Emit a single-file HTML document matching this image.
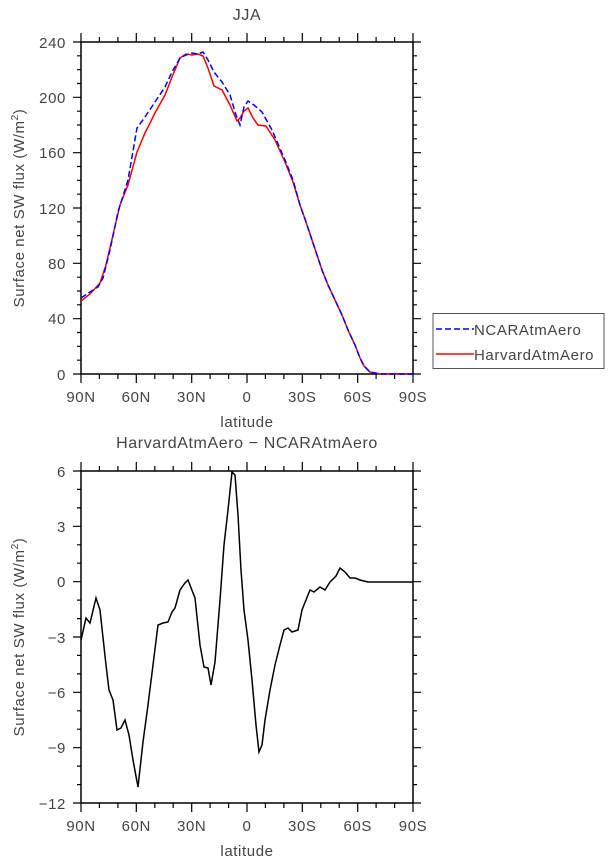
<!DOCTYPE html>
<html><head><meta charset="utf-8"><style>body{margin:0;background:#fff}svg{display:block}text{font-family:"Liberation Sans",sans-serif;fill:#444;letter-spacing:0.6px}</style></head><body>
<svg width="610" height="862" viewBox="0 0 610 862" xmlns="http://www.w3.org/2000/svg">
<g id="p1">
<text x="247" y="20" font-size="16" text-anchor="middle">JJA</text>
<rect x="81" y="42" width="332" height="332" fill="none" stroke="#000" stroke-width="1.5"/>
<g stroke="#000" stroke-width="1.2">
<path d="M81,42V33M136.3,42V33M191.7,42V33M247,42V33M302.3,42V33M357.7,42V33M413,42V33M81,374V383M136.3,374V383M191.7,374V383M247,374V383M302.3,374V383M357.7,374V383M413,374V383"/>
<path d="M99.4,42v-5M117.9,42v-5M154.8,42v-5M173.2,42v-5M210.1,42v-5M228.6,42v-5M265.4,42v-5M283.9,42v-5M320.8,42v-5M339.2,42v-5M376.1,42v-5M394.6,42v-5M99.4,374v5M117.9,374v5M154.8,374v5M173.2,374v5M210.1,374v5M228.6,374v5M265.4,374v5M283.9,374v5M320.8,374v5M339.2,374v5M376.1,374v5M394.6,374v5"/>
<path d="M81,42h-8M81,97.3h-8M81,152.7h-8M81,208h-8M81,263.3h-8M81,318.7h-8M81,374h-8M413,42h8M413,97.3h8M413,152.7h8M413,208h8M413,263.3h8M413,318.7h8M413,374h8"/>
<path d="M81,55.8h-4M81,69.7h-4M81,83.5h-4M81,111.2h-4M81,125h-4M81,138.8h-4M81,166.5h-4M81,180.3h-4M81,194.2h-4M81,221.8h-4M81,235.7h-4M81,249.5h-4M81,277.2h-4M81,291h-4M81,304.8h-4M81,332.5h-4M81,346.3h-4M81,360.2h-4M413,55.8h4M413,69.7h4M413,83.5h4M413,111.2h4M413,125h4M413,138.8h4M413,166.5h4M413,180.3h4M413,194.2h4M413,221.8h4M413,235.7h4M413,249.5h4M413,277.2h4M413,291h4M413,304.8h4M413,332.5h4M413,346.3h4M413,360.2h4"/>
</g>
<g font-size="15" text-anchor="end">
<text x="66" y="48">240</text><text x="66" y="103">200</text><text x="66" y="158">160</text><text x="66" y="214">120</text><text x="66" y="269">80</text><text x="66" y="324">40</text><text x="66" y="380">0</text>
</g>
<g font-size="15" text-anchor="middle">
<text x="81" y="402">90N</text><text x="136.3" y="402">60N</text><text x="191.7" y="402">30N</text><text x="247" y="402">0</text><text x="302.3" y="402">30S</text><text x="357.7" y="402">60S</text><text x="413" y="402">90S</text>
<text x="247" y="427">latitude</text>
</g>
<text transform="translate(24,208) rotate(-90)" font-size="15" text-anchor="middle">Surface net SW flux (W/m<tspan font-size="10" dy="-6">2</tspan><tspan dy="6">)</tspan></text>
<polyline fill="none" stroke="#f00" stroke-width="1.5" points="81,301 90,294 100,283 106,265 113,235 120,205 128,185 137,152 145,133 155,113 165,95 172,77 180,58 186,54 192,55 198,54 203,56 208,68 214,86 222,90 230,105 237,121 240,118 244,111 248,108 253,118 258,125 266,126 275,140 285,162 293,182 300,205 306,222 312,240 317,255 322,270 328,285 335,300 342,315 348,330 355,345 360,358 364,366 370,372 380,374 413,374"/>
<polyline fill="none" stroke="#00f" stroke-width="1.5" stroke-dasharray="6,3" points="81,298 90,292 98,287 103,278 110,250 118,212 128,180 137,128 145,117 155,102 165,87 172,72 180,58 186,55 192,53 198,54 203,52 208,60 214,72 222,82 230,95 236,115 240,125 244,107 248,101 254,105 262,112 272,130 285,160 293,180 300,205 306,222 312,240 317,255 322,270 328,285 335,300 342,315 348,330 355,345 360,358 364,366 370,372 380,374 413,374"/>
<rect x="433" y="313.5" width="171" height="55" fill="#fff" stroke="#555" stroke-width="1"/>
<line x1="436" y1="329" x2="474" y2="329" stroke="#00f" stroke-width="1.5" stroke-dasharray="6,3"/>
<line x1="436" y1="354" x2="474" y2="354" stroke="#f00" stroke-width="1.5"/>
<text x="474" y="335" font-size="15">NCARAtmAero</text>
<text x="474" y="360" font-size="15">HarvardAtmAero</text>
</g>
<g id="p2">
<text x="247" y="448" font-size="16" text-anchor="middle">HarvardAtmAero − NCARAtmAero</text>
<rect x="81" y="471" width="332" height="332" fill="none" stroke="#000" stroke-width="1.5"/>
<g stroke="#000" stroke-width="1.2">
<path d="M81,471v-9M136.3,471v-9M191.7,471v-9M247,471v-9M302.3,471v-9M357.7,471v-9M413,471v-9M81,803v9M136.3,803v9M191.7,803v9M247,803v9M302.3,803v9M357.7,803v9M413,803v9"/>
<path d="M99.4,471v-5M117.9,471v-5M154.8,471v-5M173.2,471v-5M210.1,471v-5M228.6,471v-5M265.4,471v-5M283.9,471v-5M320.8,471v-5M339.2,471v-5M376.1,471v-5M394.6,471v-5M99.4,803v5M117.9,803v5M154.8,803v5M173.2,803v5M210.1,803v5M228.6,803v5M265.4,803v5M283.9,803v5M320.8,803v5M339.2,803v5M376.1,803v5M394.6,803v5"/>
<path d="M81,471h-8M81,526.3h-8M81,581.7h-8M81,637h-8M81,692.3h-8M81,747.7h-8M81,803h-8M413,471h8M413,526.3h8M413,581.7h8M413,637h8M413,692.3h8M413,747.7h8M413,803h8"/>
<path d="M81,489.4h-4M81,507.9h-4M81,544.8h-4M81,563.2h-4M81,600.1h-4M81,618.6h-4M81,655.4h-4M81,673.9h-4M81,710.8h-4M81,729.2h-4M81,766.1h-4M81,784.6h-4M413,489.4h4M413,507.9h4M413,544.8h4M413,563.2h4M413,600.1h4M413,618.6h4M413,655.4h4M413,673.9h4M413,710.8h4M413,729.2h4M413,766.1h4M413,784.6h4"/>
</g>
<g font-size="15" text-anchor="end">
<text x="66" y="477">6</text><text x="66" y="532">3</text><text x="66" y="587">0</text><text x="66" y="643">−3</text><text x="66" y="698">−6</text><text x="66" y="753">−9</text><text x="66" y="809">−12</text>
</g>
<g font-size="15" text-anchor="middle">
<text x="81" y="831">90N</text><text x="136.3" y="831">60N</text><text x="191.7" y="831">30N</text><text x="247" y="831">0</text><text x="302.3" y="831">30S</text><text x="357.7" y="831">60S</text><text x="413" y="831">90S</text>
<text x="247" y="856">latitude</text>
</g>
<text transform="translate(24,637) rotate(-90)" font-size="15" text-anchor="middle">Surface net SW flux (W/m<tspan font-size="10" dy="-6">2</tspan><tspan dy="6">)</tspan></text>
<polyline fill="none" stroke="#000" stroke-width="1.5" points="81,640 86,618 90,623 96,598 100,610 106,665 109,690 113,700 117,730 121,728 125,720 129,735 133,760 138,787 143,742 148,705 153,665 158,625 163,623 168,622 172,612 175,608 180,590 185,583 188,580 195,598 200,645 204,667 208,668 211,685 215,662 220,600 224,545 228,510 232,472 235,475 238,515 241,570 244,610 248,640 252,680 256,725 259,752 262,745 265,720 270,690 275,665 280,645 284,630 288,628 292,632 298,630 302,610 310,590 314,592 320,587 325,590 330,582 336,576 340,568 345,572 350,578 355,578 360,580 368,582 413,582"/>
</g>
</svg>
</body></html>
